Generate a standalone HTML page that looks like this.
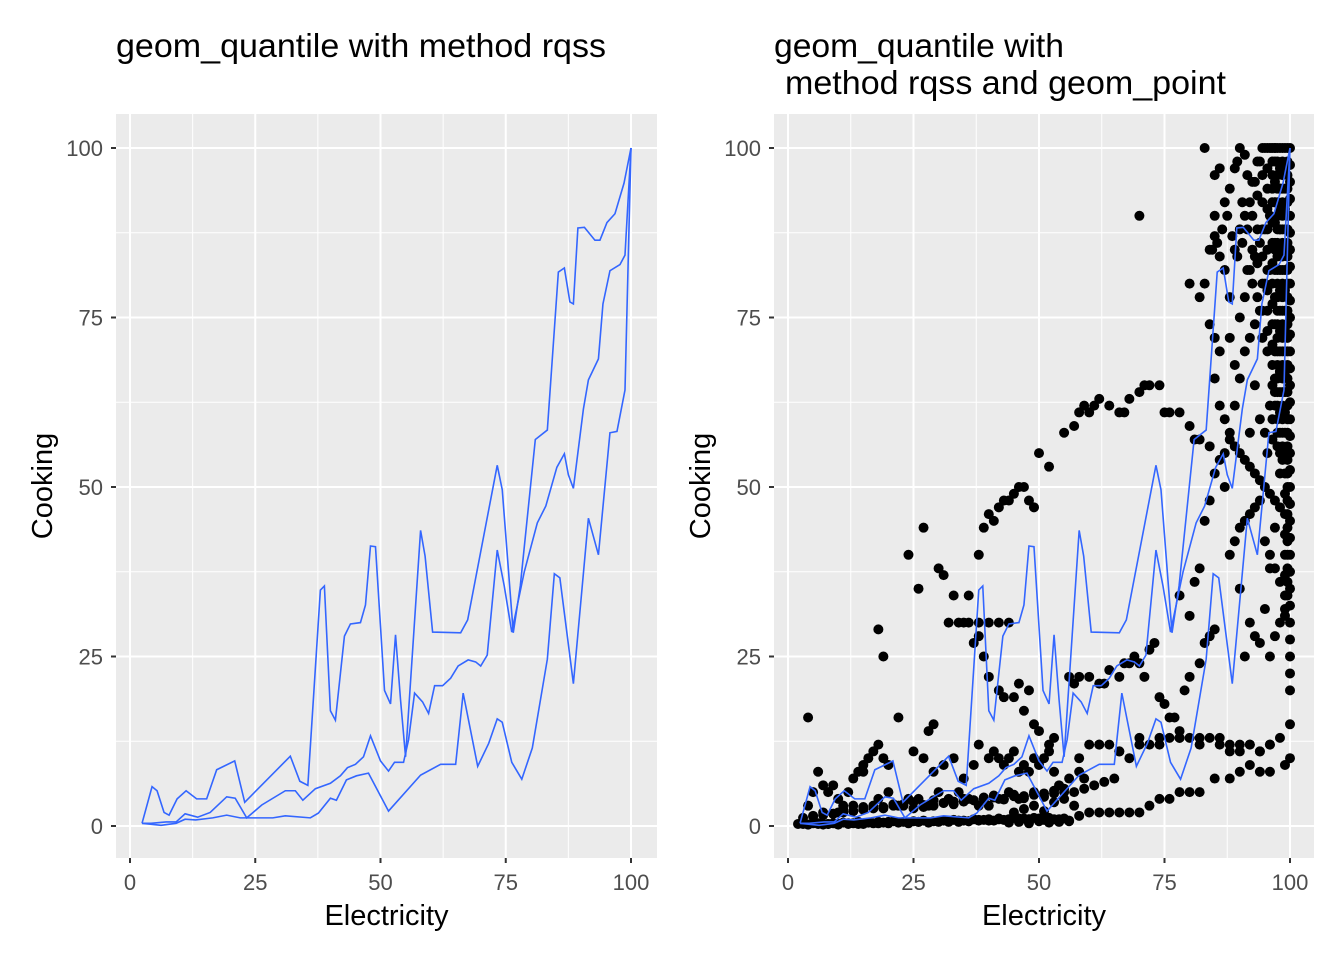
<!DOCTYPE html>
<html><head><meta charset="utf-8">
<style>
html,body{margin:0;padding:0;background:#fff;}
svg{display:block;font-family:"Liberation Sans",Arial,sans-serif;}
</style></head>
<body>
<svg id="chart" width="1344" height="960" viewBox="0 0 1344 960" xmlns="http://www.w3.org/2000/svg">
<rect x="0" y="0" width="1344" height="960" fill="#fff"/>
<text x="116" y="57" font-size="33" textLength="490" lengthAdjust="spacingAndGlyphs" fill="#000">geom_quantile with method rqss</text>
<text x="774" y="57" font-size="33" textLength="290" lengthAdjust="spacingAndGlyphs" fill="#000">geom_quantile with</text>
<text x="785" y="94" font-size="33" textLength="441" lengthAdjust="spacingAndGlyphs" fill="#000">method rqss and geom_point</text>
<g id="left"></g>
<g id="right"></g>
</svg>
<script>
const xTicks=[0,25,50,75,100];
const yTicks=[0,25,50,75,100];
const q90=[[2.4,0.4],[4.4,5.8],[5.4,5.2],[6.8,2],[7.8,1.6],[9.4,4],[11.2,5.2],[13.3,4],[15.3,4],[17.3,8.3],[20.9,9.6],[22.9,3.5],[32,10.3],[33.9,6.6],[35.5,6],[38,34.8],[38.8,35.4],[40,17],[41,15.6],[42.8,28],[44,29.8],[46,30],[47,32.6],[48,41.3],[49,41.2],[50.8,20],[52,18],[53,28.2],[54,18.6],[55,10.2],[58,43.6],[58.9,39.8],[60.4,28.6],[66,28.5],[67.4,30.4],[73.3,53.2],[74.3,49.6],[76.5,28.5],[77.9,35.4],[80.9,57],[83.3,58.4],[85.5,81.7],[86.7,82.3],[87.8,77.3],[88.5,77],[89.4,88.2],[90.7,88.3],[92.8,86.4],[93.8,86.4],[95.2,89],[96.8,90.3],[98.6,94.8],[100,100]];
const q50=[[2.4,0.4],[4.2,0.4],[7.2,0.6],[9.2,0.6],[11,1.8],[13.5,1.3],[16,2],[19.3,4.3],[21,4.1],[23.3,1.2],[26.3,3.1],[31,5.2],[33,5.2],[34.5,3.8],[37,5.5],[40,6.3],[42,7.4],[43.4,8.6],[45,9.1],[46.6,10.2],[48,13.3],[50,9.6],[51.6,8.1],[52.8,9.4],[54.6,9.4],[55.6,12.7],[56.8,19.6],[58.4,18.3],[59.6,16.6],[60.8,20.7],[62.4,20.7],[64,21.8],[65.5,23.6],[67.5,24.5],[69,24.2],[70,23.6],[71.3,25.2],[73.3,40.7],[74.7,35.4],[76.2,28.6],[78.7,37.5],[81.3,44.7],[83,47.2],[85.2,52.9],[86.7,54.9],[87.5,51.8],[88.5,49.8],[90.5,61.5],[91.5,65.8],[93.5,68.9],[94.4,77],[95.8,81.9],[97.8,82.8],[98.8,84.2],[100,100]];
const q10=[[2.4,0.4],[6.2,0.1],[9.2,0.4],[11,1],[13.1,0.9],[16.5,1.2],[19.3,1.6],[22,1.2],[28.5,1.2],[31,1.5],[36,1.2],[37.6,1.9],[40,4.1],[41.2,3.8],[43.2,6.8],[45.2,7.4],[47.6,7.8],[51.6,2.2],[58,7.5],[62,9.1],[65,9.1],[66.5,19.6],[69.4,8.8],[71.6,12.2],[73.3,15.8],[74.3,15.3],[76.2,9.4],[78.2,6.9],[80.3,11.5],[83.3,24.6],[84.7,37.2],[85.8,36.6],[88.5,21],[91.5,45.4],[93.5,40],[95.8,58],[97.2,58.2],[98.8,64.3],[100,100]];
const pointsX=[2,3,4,5,6,7,8,9,10,11,12,13,14,15,16,17,18,19,20,21,22,23,24,25,26,27,28,29,30,31,32,33,34,35,36,37,38,39,40,41,42,43,44,45,46,47,48,49,50,51,52,53,54,55,
5,7,9,11,13,15,17,19,21,23,25,27,29,31,33,35,37,39,41,43,45,47,49,51,53,55,
4,5,6,4,8,9,10,12,13,14,15,16,17,18,19,20,18,19,22,15,13,10,11,7,
26,27,24,30,31,32,33,35,36,38,39,40,41,42,43,44,45,46,47,48,49,50,52,55,57,58,59,60,61,62,64,66,67,68,70,71,72,74,75,76,78,80,81,82,84,
34,36,38,40,42,44,38,37,39,40,42,43,45,47,50,52,48,46,49,53,56,57,58,60,62,63,64,66,67,68,69,70,71,72,73,74,75,76,77,78,79,80,82,83,84,85,78,80,81,82,83,84,85,86,87,88,89,90,91,92,93,94,95,96,97,98,88,89,90,91,92,93,94,95,96,97,98,99,
60,62,64,66,68,70,72,74,76,78,80,82,84,86,88,90,92,94,96,98,100,
57,60,62,64,66,68,70,72,74,76,78,80,82,85,88,90,92,94,96,99,100,
40,41,42,43,44,45,46,47,48,49,50,51,52,53,54,55,56,58,59,46,44,42,40,38,36,34,32,30,28,26,24,22,35,37,38,33,31,29,27,25,28,29,20,18,
100,100,100,100,100,100,100,100,100,100,100,100,100,100,100,100,100,100,100,100,100,100,100,100,100,100,100,100,100,100,100,100,100,
99,99,99,99,99,99,99,99,99,99,99,99,99,99,99,99,99,99,99,99,99,99,99,99,
98,98,98,98,98,98,98,98,98,98,98,98,98,98,98,98,
97,97,97,97,97,97,97,97,97,97,97,97,
83,84,85,86,87,88,89,90,91,92,93,94,95,96,97,90,91,89,88,86,85,83,70,85,86,87,88,89,90,91,92,93,94,95,96,97,98,92,93,94,95,96,97,98,90,91,88,89,93,94,95,96,97,98,92,84,85,86,87,90,92,93,94,95,96,97,98,91,96,97,98,80,82,85,87,
99.5,99.5,99.5,99.5,99.5,99.5,99.5,99.5,99.5,99.5,99.5,99.5,99.5,99.5,99.5,99.5,99.5,99.5,99.5,99.5,99.5,99.5,99.5,99.5,99.5,99.5,99.5,99.5,99.5,99.5,99.5,99.5,99.5,99.5,
98.5,98.5,98.5,98.5,98.5,98.5,98.5,98.5,98.5,98.5,98.5,98.5,98.5,98.5,98.5,98.5,98.5,98.5,98.5,98.5,98.5,98.5,98.5,98.5,
97.5,97.5,97.5,97.5,97.5,97.5,97.5,97.5,97.5,97.5,97.5,97.5,97.5,97.5,97.5,97.5,97.5,97.5,97.5,97.5,97.5,97.5,97.5,
96.5,96.5,96.5,96.5,96.5,96.5,96.5,96.5,96.5,96.5,96.5,96.5,96.5,96.5,96.5,96.5,
95.5,95.5,95.5,95.5,95.5,95.5,95.5,95.5,95.5,95.5,95.5,95.5,
94.5,94.5,94.5,94.5,94.5,94.5,94.5,94.5,93.5,93.5,93.5,93.5,93.5,92.5,92.5,92.5,92.5,91.5,91.5,91.5,90.5,90.5,89.5,89.5,88.5,87.5,86.5,85.5,84.5,
3,4,6,8,10,12,14,16,18,20,22,24,26,28,30,32,34,36,38,40,42,44,46,48,50,52,54,56,
3,5,7,9,11,13,15,17,19,21,23,25,27,29,31,33,35,37,39,41,43,45,47,49,51,53,
44,46,48,50,52,54,56,58,45,47,49,51,53,55,57,59,61,63,65,58,62,66,70,74,78,82,86,88,90,92,94,96];
const pointsY=[0.3,0.5,0.2,0.4,0.3,0.2,0.3,0.4,0.3,0.5,0.3,0.4,0.6,0.3,0.5,0.4,0.6,0.5,0.4,0.7,0.5,0.6,0.5,0.7,0.6,0.8,0.5,0.7,0.6,0.8,0.7,0.9,0.6,0.8,0.7,1,0.8,0.9,1,0.8,1.1,0.9,1,1.2,0.9,1.1,1,1.2,1.1,0.9,1.2,1,0.8,1.1,
1.5,2,1.8,2.5,2.2,2.8,3,2.6,3.2,3,3.5,3.1,3.8,3.4,3.6,4,3.8,4.2,4.5,4,4.6,4.4,5,4.8,5.2,5.5,
3,5,8,16,5,6,4,5,7,8,9,10,11,12,10,9,29,25,16,8,3,2,3,6,
35,44,40,38,37,30,34,30,34,40,44,46,45,47,48,48,49,50,50,48,47,55,53,58,59,61,62,61,62,63,62,61,61,63,64,65,65,65,61,61,61,59,57,57,56,
30,30,30,30,30,30,28,27,25,22,20,19,19,17,14,12,20,21,15,13,22,21,22,22,21,21,23,22,24,24,25,24,22,26,27,19,18,16,16,14,20,22,24,27,28,29,34,31,36,38,45,48,52,54,55,57,56,55,54,53,52,51,50,49,48,47,40,42,44,45,46,47,48,42,40,38,36,32,
12,12,12,11,10,12,12,13,13,13,13,13,13,12,11,12,12,11,12,13,15,
3,2,2,2,2,2,2,3,4,4,5,5,5,7,7,8,9,8,8,9,10,
10,11,10,9,10,11,8,9,8,10,9,10,11,8,6,5,7,8,7,4,5,4,3,3,4,5,4,5,3,4,4,3,7,9,12,10,9,8,10,11,14,15,5,4,
20,22.5,25,27.5,30,32.5,35,37.5,40,42.5,45,47.5,50,52.5,55,57.5,60,62.5,65,67.5,70,72.5,75,77.5,80,82.5,85,87.5,90,92.5,95,97.5,100,
31,34,37,40,43,46,49,52,55,58,61,64,67,70,73,76,79,82,85,88,91,94,97,100,
55,58,61,64,67,70,73,76,79,82,85,88,91,94,97,100,
62,66,70,74,78,82,86,89,92,95,98,100,
80,85,87,84,82,78,85,88,90,92,95,98,100,100,100,100,99,97,94,97,96,100,90,66,62,60,58,62,66,70,72,74,76,80,82,85,88,82,84,86,88,90,92,94,75,78,72,68,65,60,58,62,64,67,58,74,72,70,50,35,30,28,27,32,38,44,52,25,25,28,30,80,78,90,92,
34,36,38,40,42,44,46,48,50,52,54,56,58,60,62,64,66,68,70,72,74,76,78,80,82,84,86,88,90,92,94,96,98,100,
54,56,58,60,62,64,66,68,70,72,74,76,78,80,82,84,86,88,90,92,94,96,98,100,
56,58,60,62,64,66,68,70,72,74,76,78,80,82,84,86,88,90,92,94,96,98,100,
65,68,71,74,77,80,83,86,89,92,94,96,98,100,60,57,
70,73,76,79,82,85,88,91,94,97,100,55,
72,76,80,84,88,92,96,100,78,83,88,93,98,80,85,90,95,82,88,96,86,92,84,98,87,90,88,86,85,
0.3,0.2,0.4,0.3,0.2,0.4,0.3,0.5,0.4,0.6,0.5,0.4,0.6,0.5,0.7,0.6,0.8,0.7,0.9,0.8,1,0.9,1.1,1,0.8,0.9,1,0.7,
1.2,1.4,1.6,1.8,2,2.2,2.4,2.6,2.8,3,3.2,2.6,2.8,3,3.4,3.2,3.6,3.8,4,4.2,3.9,4.4,4.1,4.6,4.3,4.8,
0.5,0.6,0.4,0.7,0.5,0.6,0.8,1.5,2,2.5,3,2.2,3.5,4,5,5.5,6,6.5,7,10,12,11,13,12,13,12,13,12,11,12,11,12];

const PT=114,PB=858,y0=826,y100=148;
function panel(id,left,right,x0,x100,withPoints){
  const g=document.getElementById(id);
  const ns="http://www.w3.org/2000/svg";
  const X=v=>x0+(x100-x0)*v/100, Y=v=>y0+(y100-y0)*v/100;
  function el(t,a,p){const e=document.createElementNS(ns,t);for(const k in a)e.setAttribute(k,a[k]);(p||g).appendChild(e);return e;}
  el('rect',{x:left,y:PT,width:right-left,height:PB-PT,fill:'#ebebeb'});
  for(let i=0;i<xTicks.length-1;i++){const m=(xTicks[i]+xTicks[i+1])/2;
    el('line',{x1:X(m),x2:X(m),y1:PT,y2:PB,stroke:'#fff','stroke-width':1});
    el('line',{x1:left,x2:right,y1:Y(m),y2:Y(m),stroke:'#fff','stroke-width':1});}
  xTicks.forEach(t=>{
    const l=el('line',{x1:X(t),x2:X(t),y1:PT,y2:PB,stroke:'#fff','stroke-width':2});
    
    
    el('line',{x1:X(t),x2:X(t),y1:PB,y2:PB+5,stroke:'#333','stroke-width':2});
    const tx=el('text',{x:X(t),y:PB+32,'text-anchor':'middle','font-size':22,fill:'#4d4d4d'});
    tx.textContent=t;
    
    
  });
  yTicks.forEach(t=>{
    el('line',{x1:left,x2:right,y1:Y(t),y2:Y(t),stroke:'#fff','stroke-width':2});
    el('line',{x1:left-5,x2:left,y1:Y(t),y2:Y(t),stroke:'#333','stroke-width':2});
    const tx=el('text',{x:left-13,y:Y(t)+8,'text-anchor':'end','font-size':22,fill:'#4d4d4d'});
    tx.textContent=t;
    
    
  });
  if(withPoints){
    for(let i=0;i<pointsX.length;i++){
      const c=el('circle',{cx:X(pointsX[i]),cy:Y(pointsY[i]),r:5,fill:'#000'});
      
      
    }
  }
  [q10,q50,q90].forEach((s,k)=>{
    const p=el('polyline',{points:s.map(d=>X(d[0])+','+Y(d[1])).join(' '),fill:'none',stroke:'#3366ff','stroke-width':1.6});
    
    
  });
  const xt=el('text',{x:(left+right)/2,y:925,'text-anchor':'middle','font-size':29,fill:'#000'});
  xt.textContent='Electricity';
  
  
  const cy=(PT+PB)/2, cx=left-64;
  const yt=el('text',{x:cx,y:cy,'text-anchor':'middle','font-size':29,fill:'#000',transform:'rotate(-90 '+cx+' '+cy+')'});
  yt.textContent='Cooking';
  
  
}
panel('left',116,657,130,631,false);
panel('right',774,1314,788,1290,true);
</script>
</body></html>
